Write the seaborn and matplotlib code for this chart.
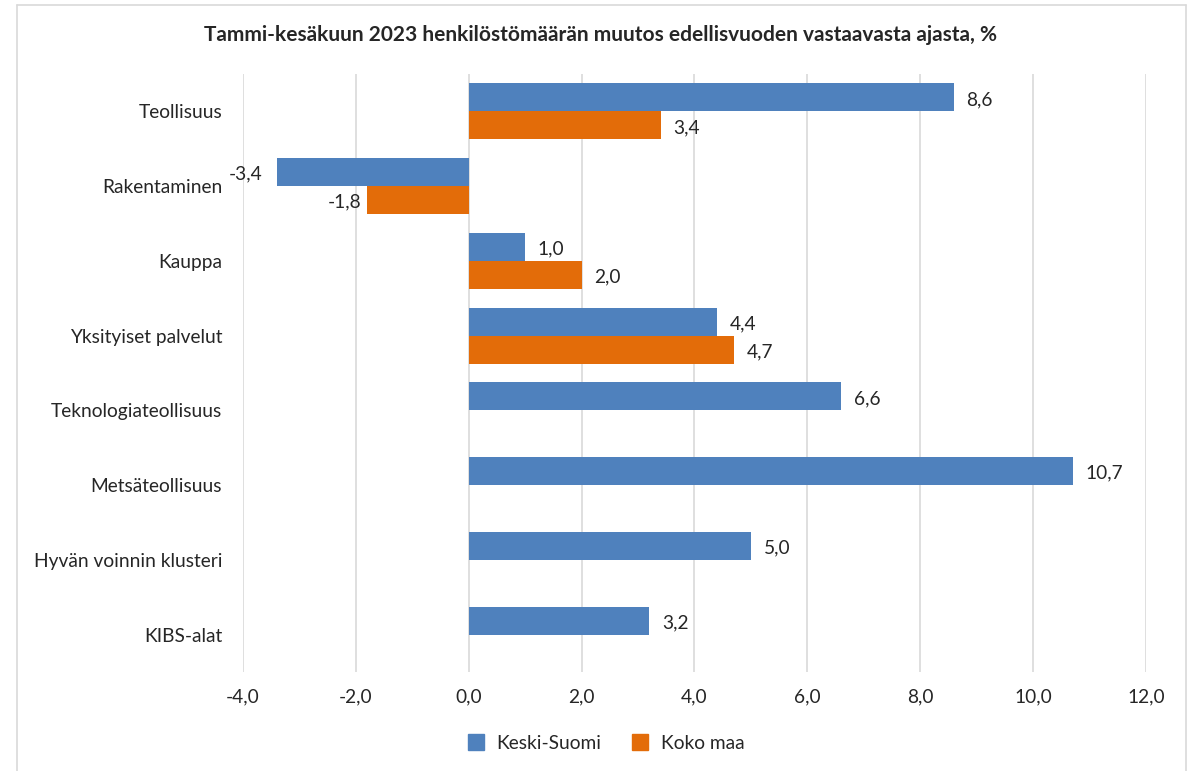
import pandas as pd
import numpy as np
import seaborn as sns
import matplotlib.pyplot as plt
from matplotlib.lines import Line2D

# data
categories = ['Teollisuus', 'Rakentaminen', 'Kauppa', 'Yksityiset palvelut',
              'Teknologiateollisuus', 'Metsäteollisuus', 'Hyvän voinnin klusteri', 'KIBS-alat']
keski_suomi = [8.6, -3.4, 1.0, 4.4, 6.6, 10.7, 5.0, 3.2]
koko_maa = [3.4, -1.8, 2.0, 4.7, np.nan, np.nan, np.nan, np.nan]
series = ['Keski-Suomi', 'Koko maa']
colors = ['#4F81BD', '#E36C09']
xticks = [-4, -2, 0, 2, 4, 6, 8, 10, 12]

df = pd.DataFrame({
    'ala': categories * 2,
    'arvo': keski_suomi + koko_maa,
    'sarja': [series[0]] * len(categories) + [series[1]] * len(categories),
})

sns.set_style('white')
plt.rcParams['font.family'] = ['Lato', 'DejaVu Sans']
fs = 13.8

fig = plt.figure(figsize=(12.01, 7.71), dpi=100)
ax = fig.add_axes([0.2023, 0.1284, 0.7519, 0.7756])

sns.barplot(data=df, x='arvo', y='ala', hue='sarja', order=categories,
            hue_order=series, palette=colors, width=0.75, orient='h',
            saturation=1, linewidth=0, ax=ax, legend=False)

ax.set_xlim(-4, 12)
ax.set_ylim(len(categories) - 0.5, -0.5)
ax.set_xticks(xticks)
ax.set_xticklabels([f'{t:.1f}'.replace('.', ',') for t in xticks], fontsize=fs)
ax.tick_params(axis='y', labelsize=fs, length=0, pad=15)
ax.tick_params(axis='x', length=0, pad=12)
ax.set_xlabel('')
ax.set_ylabel('')
ax.grid(axis='x', color='#D9D9D9', linewidth=1.2)
ax.set_axisbelow(True)
for s in ax.spines.values():
    s.set_visible(False)

# data labels
for i, cont in enumerate(ax.containers):
    for bar in cont:
        w = bar.get_width()
        if np.isnan(w):
            continue
        y = bar.get_y() + bar.get_height() / 2
        txt = f'{w:.1f}'.replace('.', ',')
        if w >= 0:
            ax.annotate(txt, (w, y), xytext=(9, -1.5), textcoords='offset points',
                        ha='left', va='center', fontsize=fs)
        else:
            ax.annotate(txt, (w, y), xytext=(-10 if i == 0 else -4, -1.5),
                        textcoords='offset points', ha='right', va='center', fontsize=fs)

fig.suptitle('Tammi-kesäkuun 2023 henkilöstömäärän muutos edellisvuoden vastaavasta ajasta, %',
             x=0.5, y=0.968, fontsize=15, fontweight='bold')

handles = [Line2D([], [], marker='s', linestyle='', markersize=11, color=c) for c in colors]
fig.legend(handles, series, loc='center', bbox_to_anchor=(0.5, 0.036), ncol=2,
           frameon=False, fontsize=fs, handletextpad=0.1, columnspacing=1.0)

# outer chart frame
fig.add_artist(Line2D([0.0142, 0.0142], [0, 0.9935], transform=fig.transFigure, color='#D9D9D9', lw=1.2))
fig.add_artist(Line2D([0.0142, 0.9875], [0.9935, 0.9935], transform=fig.transFigure, color='#D9D9D9', lw=1.2))
fig.add_artist(Line2D([0.9875, 0.9875], [0, 0.9935], transform=fig.transFigure, color='#D9D9D9', lw=1.2))

fig.savefig('out.png', dpi=100)
